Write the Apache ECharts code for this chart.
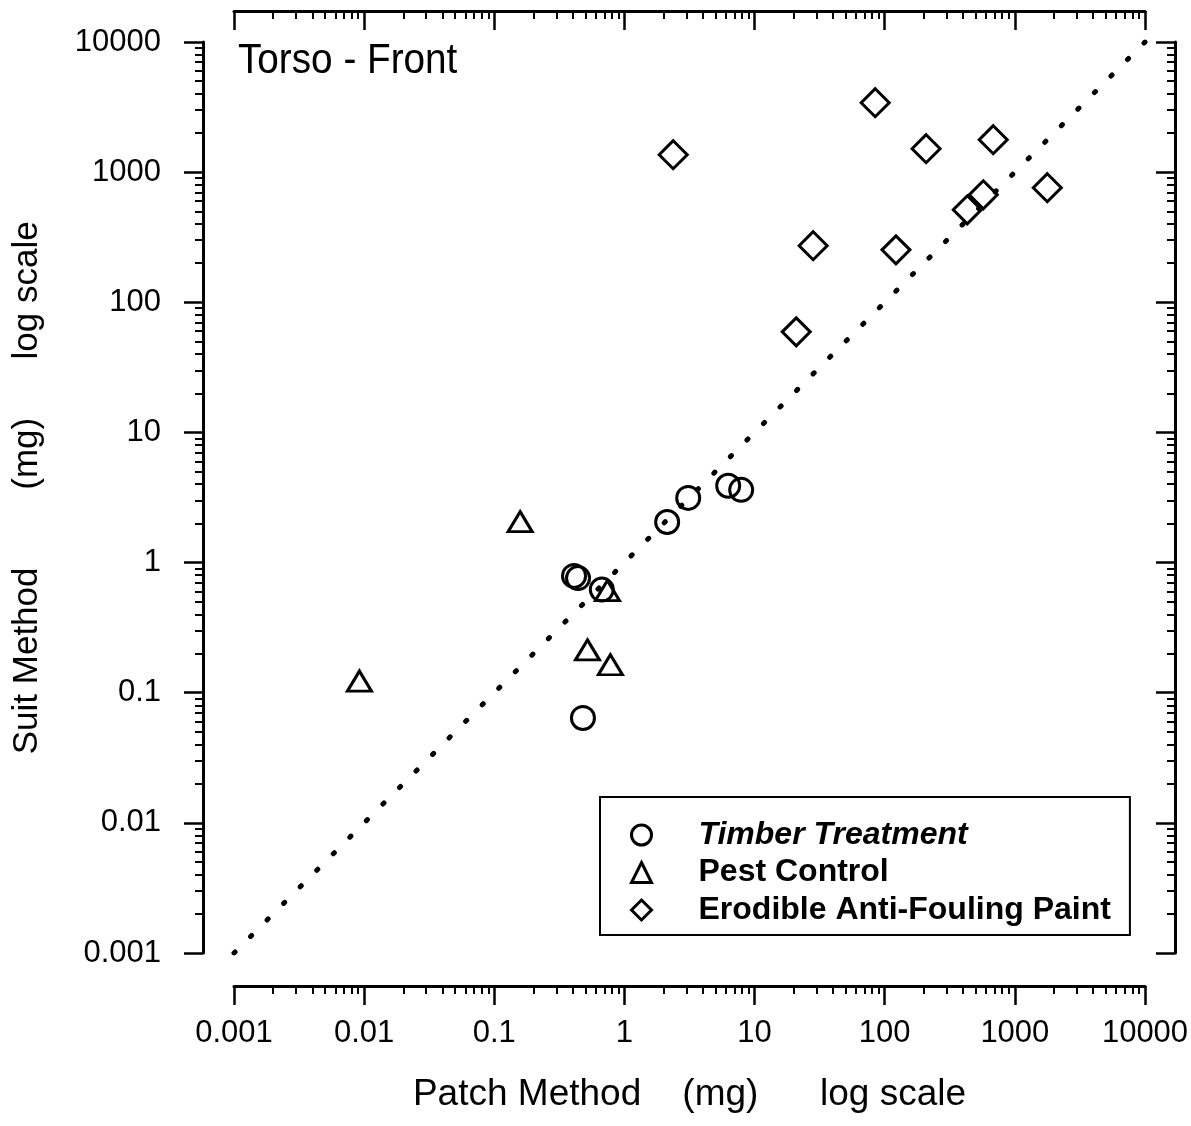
<!DOCTYPE html>
<html>
<head>
<meta charset="utf-8">
<style>
html, body { margin: 0; padding: 0; background: #fff; }
#chart { width: 1191px; height: 1126px; }
</style>
<script src="https://cdn.jsdelivr.net/npm/echarts@6/dist/echarts.min.js"></script>
</head>
<body>
<div id="chart"></div>
<script>
// tick labels for both log axes
var tickLabels = ['0.001', '0.01', '0.1', '1', '10', '100', '1000', '10000'];
var seriesNames = ['Timber Treatment', 'Pest Control', 'Erodible Anti-Fouling Paint'];
// [patch method, suit method] in mg
var timber = [[0.41, 0.79], [0.44, 0.76], [0.67, 0.62], [2.13, 2.05], [3.09, 3.14], [6.27, 3.89], [7.89, 3.62], [0.48, 0.064]];
var pest = [[0.158, 2.06], [0.74, 0.61], [0.52, 0.213], [0.78, 0.164], [0.0092, 0.123]];
var paint = [[2.37, 1361], [84.5, 3414], [208, 1513], [682, 1775], [1775, 759], [572, 670], [431, 514], [28.2, 272], [122, 253], [20.9, 59.3]];
// 1:1 line
var unity = [[0.001, 0.001], [10000, 10000]];

var FONT = '"Liberation Sans", Arial, sans-serif';

function fmt(v) {
    var i = Math.round(Math.log(v) / Math.LN10) + 3;
    return tickLabels[i] !== undefined ? tickLabels[i] : '';
}

function logAxis(pos, offset, inside, showLabel, margin) {
    return {
        type: 'log',
        logBase: 10,
        min: 0.001,
        max: 10000,
        interval: 1,
        position: pos,
        offset: offset,
        axisLine: { show: true, onZero: false, lineStyle: { color: '#000', width: 3 } },
        axisTick: { show: true, inside: inside, length: 19, lineStyle: { color: '#000', width: 2.5 } },
        minorTick: { show: true, splitNumber: 9, length: 8, lineStyle: { color: '#000', width: 2 } },
        splitLine: { show: false },
        minorSplitLine: { show: false },
        axisLabel: {
            show: showLabel,
            margin: margin,
            formatter: fmt,
            color: '#000',
            fontFamily: FONT,
            fontSize: 31
        }
    };
}

var myChart = echarts.init(document.getElementById('chart'));

var xBottom = logAxis('bottom', 33, false, true, 32);
xBottom.name = 'Patch Method    (mg)      log scale';
xBottom.nameLocation = 'middle';
xBottom.nameGap = 90;
xBottom.nameTextStyle = { color: '#000', fontFamily: FONT, fontSize: 37 };

var yLeft = logAxis('left', 31, false, true, 42);
yLeft.name = '  Suit Method        (mg)      log scale';
yLeft.nameLocation = 'middle';
yLeft.nameGap = 158;
yLeft.nameTextStyle = { color: '#000', fontFamily: FONT, fontSize: 35 };

var symbolStyle = { color: 'transparent', borderColor: '#000', borderWidth: 3, opacity: 1 };

var option = {
    animation: false,
    backgroundColor: '#fff',
    grid: { left: 234, top: 42, width: 911, height: 911, containLabel: false, outerBoundsMode: 'none' },
    xAxis: [xBottom, logAxis('top', 31, true, false, 8)],
    yAxis: [yLeft, logAxis('right', 30, true, false, 8)],
    legend: {
        orient: 'vertical',
        left: 600,
        top: 797,
        padding: [22, 19, 9, 30],
        itemWidth: 20,
        itemHeight: 20,
        itemGap: 5.5,
        borderColor: '#000',
        borderWidth: 2,
        borderRadius: 0,
        data: seriesNames,
        itemStyle: { color: 'transparent', borderColor: '#000', borderWidth: 3, opacity: 1 },
        formatter: function (name) {
            return name === 'Timber Treatment' ? '{i|' + name + '}' : name;
        },
        textStyle: {
            color: '#000',
            fontFamily: FONT,
            fontSize: 32,
            fontWeight: 'bold',
            padding: [0, 0, 0, 42],
            rich: {
                i: { fontStyle: 'italic', fontWeight: 'bold', fontFamily: FONT, fontSize: 32, color: '#000' }
            }
        }
    },
    graphic: [{
        type: 'text',
        x: 238,
        y: 61,
        scaleX: 0.9,
        style: { text: 'Torso - Front', font: '43px ' + FONT, fill: '#000', textAlign: 'left', textVerticalAlign: 'middle' }
    }],
    series: [
        {
            name: '1:1',
            type: 'line',
            data: unity,
            symbol: 'none',
            silent: true,
            lineStyle: { color: '#000', width: 5, type: [1.5, 21.9], cap: 'round' },
            z: 1
        },
        {
            name: seriesNames[0],
            type: 'scatter',
            data: timber,
            symbol: 'circle',
            symbolSize: 23,
            itemStyle: symbolStyle,
            z: 3
        },
        {
            name: seriesNames[1],
            type: 'scatter',
            data: pest,
            symbol: 'triangle',
            symbolSize: [24, 20],
            itemStyle: symbolStyle,
            z: 3
        },
        {
            name: seriesNames[2],
            type: 'scatter',
            data: paint,
            symbol: 'diamond',
            symbolSize: 28,
            itemStyle: symbolStyle,
            z: 3
        }
    ]
};

myChart.setOption(option);
</script>
</body>
</html>
